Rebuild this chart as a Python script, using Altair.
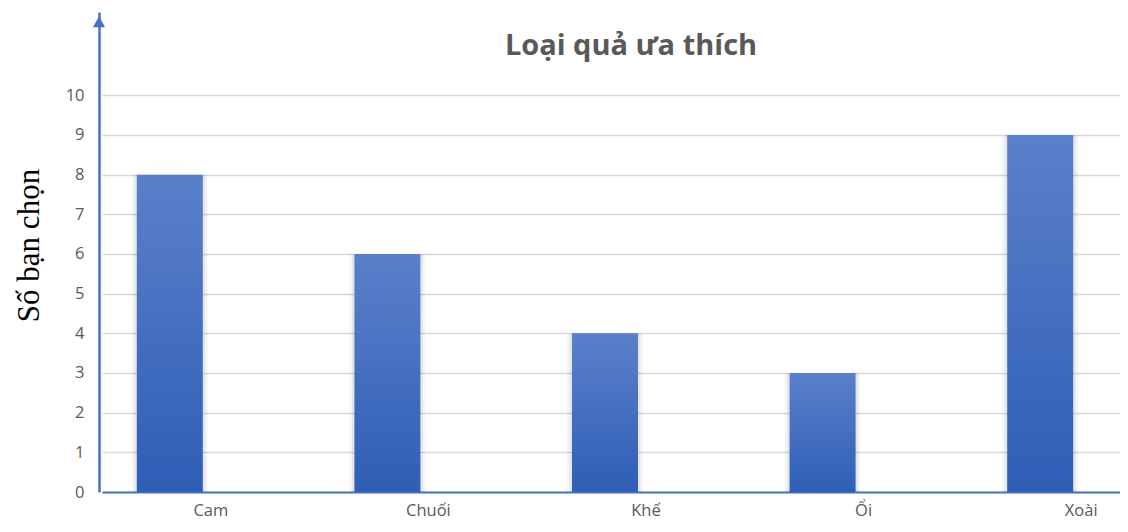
import altair as alt
import pandas as pd

categories = ["Cam", "Chuối", "Khế", "Ổi", "Xoài"]
values = [8, 6, 4, 3, 9]
y_ticks = list(range(0, 11))
title_text = "Loại quả ưa thích"
y_title = "Số bạn chọn"

df = pd.DataFrame({"fruit": categories, "count": values})

blue = "#4472C4"
gray = "#595959"

x_enc = alt.X(
    "fruit:N",
    sort=categories,
    scale=alt.Scale(domain=categories, range=[3, 1091], paddingInner=0, paddingOuter=0),
    axis=alt.Axis(
        title=None, labelAngle=0, ticks=False, grid=False,
        domainColor=blue, domainWidth=2,
        labelColor=gray, labelFont="Open Sans", labelFontSize=16.5, labelPadding=10,
    ),
)
y_enc = alt.Y(
    "count:Q",
    scale=alt.Scale(domain=[0, 12.1], nice=False),
    axis=alt.Axis(
        values=y_ticks, title=y_title,
        titleFont="Liberation Serif", titleFontSize=31, titleFontWeight="normal",
        titleColor="black", titleAngle=-90, titleX=-70, titleY=233,
        titleAlign="center", titleBaseline="middle",
        ticks=False, domainColor=blue, domainWidth=2.5,
        labelColor=gray, labelFont="Open Sans", labelFontSize=16.5, labelPadding=15,
        gridColor="#D9D9D9", gridWidth=1.5,
    ),
)

grad = alt.Gradient(
    gradient="linear",
    stops=[alt.GradientStop(color="#5B80CA", offset=0),
           alt.GradientStop(color="#2E5EB6", offset=1)],
    x1=0, x2=0, y1=0, y2=1,
)

shadow = alt.Chart(df).mark_bar(width=76, xOffset=-41, color="#000000", opacity=0.04).encode(
    x=x_enc, y=y_enc
)
shadow2 = alt.Chart(df).mark_bar(width=71, xOffset=-41, color="#000000", opacity=0.06).encode(
    x=x_enc, y=y_enc
)
bars = alt.Chart(df).mark_bar(width=66, xOffset=-41, color=grad).encode(x=x_enc, y=y_enc)

arrow = alt.Chart(pd.DataFrame({"a": [1]})).mark_point(
    shape="triangle-up", filled=True, size=150, color=blue, opacity=1
).encode(x=alt.value(0), y=alt.datum(11.85))

title = alt.Chart(pd.DataFrame({"t": [title_text]})).mark_text(
    font="Open Sans", fontSize=29, fontWeight="bold", color=gray, align="center", baseline="middle"
).encode(text="t:N", x=alt.value(532), y=alt.value(34))

chart = alt.layer(shadow, shadow2, bars, arrow, title).properties(
    width=1021, height=480,
    autosize=alt.AutoSizeParams(type="none"),
    padding={"left": 91, "top": 4, "right": 0, "bottom": 32},
).configure_view(stroke=None)

chart.save("out.html", embed_options={"renderer": "svg", "actions": False})
